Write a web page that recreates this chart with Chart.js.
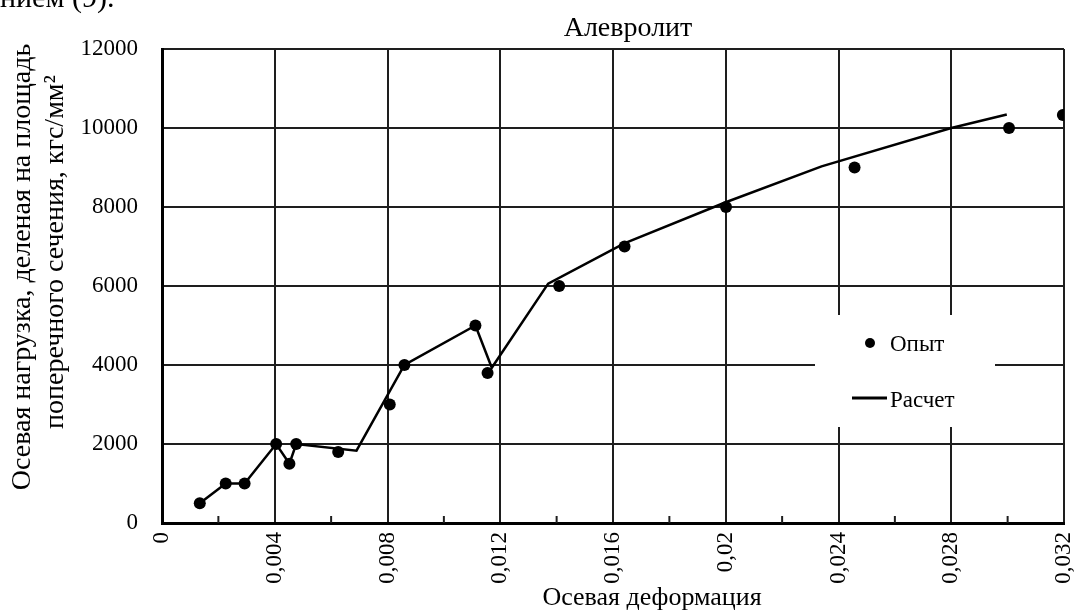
<!DOCTYPE html>
<html>
<head>
<meta charset="utf-8">
<script src="https://cdn.jsdelivr.net/npm/chart.js@4.4.0/dist/chart.umd.min.js"></script>
<style>
  html, body { margin: 0; padding: 0; background: #fff; }
  #wrap { width: 1077px; height: 613px; position: relative; }
</style>
</head>
<body>
<div id="wrap"><canvas id="chart" width="1077" height="613"></canvas></div>
<script>
// ===== DATA =====
const expStrain  = [0.00134, 0.00226, 0.00293, 0.00405, 0.00452, 0.00476, 0.00625, 0.00808, 0.0086, 0.01112, 0.01155, 0.01409, 0.01641, 0.02001, 0.02457, 0.03005, 0.03196];
const expLoad    = [500, 1000, 1000, 2000, 1500, 2000, 1800, 3000, 4000, 5000, 3800, 6000, 7000, 8000, 9000, 10000, 10330];
const calcStrain = [0.00134, 0.00226, 0.00293, 0.00405, 0.00452, 0.00476, 0.0069, 0.0086, 0.01112, 0.0117, 0.0137, 0.0164, 0.020, 0.0234, 0.028, 0.02997];
const calcLoad   = [500, 1000, 1000, 2000, 1500, 2000, 1830, 4000, 5000, 3930, 6060, 7080, 8120, 9030, 10000, 10340];
const xTickMax = 0.032, xStep = 0.002;
const yTickMax = 12000, yStep = 2000;

const chartTitle = "Алевролит";
const xTitle = "Осевая деформация";
const yTitle = ["Осевая нагрузка, деленая на площадь", "поперечного сечения, кгс/мм²"];
const cutText = "нием (9).";
const legendLabels = ["Опыт", "Расчет"];

// ===== HELPERS =====
const SERIF = '"Liberation Serif", "Times New Roman", serif';
const INK = "#000";
const GRID = "#1e1e1e";
const isMajor = (v) => Math.round(v / xStep) % 2 === 0;
const fmtX = (v) => String(Number(v.toFixed(3))).replace(".", ",");
const pts = (xs, ys) => xs.map((x, i) => ({ x, y: ys[i] }));

// minor tick marks on the x axis (inside the plot)
const minorTicks = {
  id: "minorTicks",
  afterDatasetsDraw(chart) {
    const sx = chart.scales.x, b = chart.chartArea.bottom, ctx = chart.ctx;
    ctx.save();
    ctx.strokeStyle = GRID; ctx.lineWidth = 2;
    sx.ticks.forEach(t => {
      if (isMajor(t.value)) return;
      const px = sx.getPixelForValue(t.value);
      ctx.beginPath(); ctx.moveTo(px, b - 7); ctx.lineTo(px, b); ctx.stroke();
    });
    ctx.restore();
  }
};

// white legend box sitting over the grid
const legendBox = {
  id: "legendBox",
  beforeDatasetsDraw(chart) {
    const ctx = chart.ctx;
    ctx.save();
    ctx.fillStyle = "#fff";
    ctx.fillRect(815, 315, 180, 112);
    ctx.fillStyle = INK; ctx.strokeStyle = INK;
    ctx.beginPath(); ctx.arc(870, 343, 5, 0, Math.PI * 2); ctx.fill();
    ctx.lineWidth = 3;
    ctx.beginPath(); ctx.moveTo(852, 398); ctx.lineTo(887, 398); ctx.stroke();
    ctx.font = "23px " + SERIF;
    ctx.textBaseline = "alphabetic"; ctx.textAlign = "left";
    ctx.fillText(legendLabels[0], 890, 351);
    ctx.fillText(legendLabels[1], 890, 407);
    ctx.restore();
  }
};

// titles
const texts = {
  id: "texts",
  afterDraw(chart) {
    const ctx = chart.ctx;
    ctx.save();
    ctx.fillStyle = INK;
    ctx.textBaseline = "alphabetic";
    ctx.textAlign = "left";
    ctx.font = "30px " + SERIF;
    ctx.fillText(cutText, 0, 7);
    ctx.font = "28px " + SERIF;
    ctx.textAlign = "center";
    ctx.fillText(chartTitle, 628, 36);
    ctx.font = "26px " + SERIF;
    ctx.fillText(xTitle, 652, 605);
    ctx.font = "28px " + SERIF;
    ctx.textBaseline = "middle";
    ctx.translate(23, 267); ctx.rotate(-Math.PI / 2);
    ctx.fillText(yTitle[0], 0, 0);
    ctx.setTransform(1, 0, 0, 1, 0, 0);
    ctx.translate(56, 252); ctx.rotate(-Math.PI / 2);
    ctx.fillText(yTitle[1], 0, 0);
    ctx.restore();
  }
};

new Chart(document.getElementById("chart"), {
  type: "scatter",
  data: {
    datasets: [
      { label: legendLabels[0], data: pts(expStrain, expLoad), pointRadius: 6, pointHoverRadius: 6,
        backgroundColor: INK, borderColor: INK, borderWidth: 0, showLine: false, order: 0 },
      { label: legendLabels[1], data: pts(calcStrain, calcLoad), showLine: true, pointRadius: 0,
        borderColor: INK, borderWidth: 2.5, tension: 0, order: 1 }
    ]
  },
  options: {
    responsive: false,
    animation: false,
    devicePixelRatio: 1,
    layout: { padding: { top: 49, right: 13, bottom: 0, left: 0 } },
    plugins: { legend: { display: false }, tooltip: { enabled: false }, title: { display: false } },
    scales: {
      x: {
        type: "linear", min: 0, max: xTickMax,
        afterFit: (s) => { s.height = 90; s.paddingLeft = 0; s.paddingRight = 0; },
        grid: {
          color: (c) => isMajor(c.tick.value) ? GRID : "rgba(0,0,0,0)",
          lineWidth: 2, drawTicks: false
        },
        border: { color: INK, width: 3 },
        ticks: {
          stepSize: xStep, autoSkip: false, maxRotation: 90, minRotation: 90, padding: 9,
          color: INK, font: { family: SERIF, size: 23 },
          callback: (v) => isMajor(v) ? fmtX(v) : ""
        }
      },
      y: {
        min: 0, max: yTickMax,
        afterFit: (s) => { s.width = 162; s.paddingTop = 0; s.paddingBottom = 0; },
        grid: { color: GRID, lineWidth: 2, drawTicks: false },
        border: { color: INK, width: 3 },
        ticks: { stepSize: yStep, padding: 24, color: INK, font: { family: SERIF, size: 23 },
          callback: (v) => String(v) }
      }
    }
  },
  plugins: [minorTicks, legendBox, texts]
});
</script>
</body>
</html>
